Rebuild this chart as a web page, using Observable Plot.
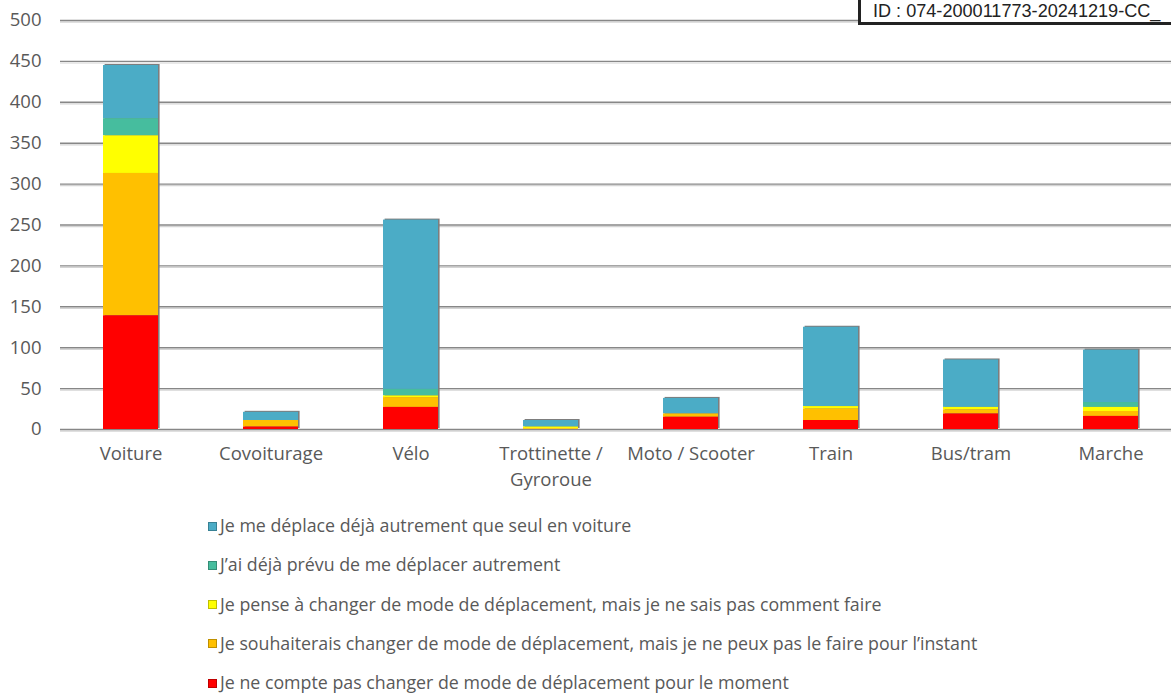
<!DOCTYPE html>
<html>
<head>
<meta charset="utf-8">
<script src="https://cdn.jsdelivr.net/npm/d3@7"></script>
<script src="https://cdn.jsdelivr.net/npm/@observablehq/plot@0.6"></script>
<style>
  html, body { margin: 0; padding: 0; background: #fff; overflow: hidden; }
  #wrap { position: relative; width: 1171px; height: 693px; overflow: hidden; }
  #chart svg { display: block; overflow: visible; }
  #idbox { position: absolute; left: 858px; top: -10px; width: 313px; height: 35px;
           border: 3px solid #222; border-right: none; background: #fff; font-family: "Liberation Sans", Arial, sans-serif;
           font-size: 18.1px; color: #222; box-sizing: border-box; line-height: 1; }
  #idbox span { position: absolute; top: 8px; left: 12px; white-space: nowrap; transform: scaleY(1.06); transform-origin: top left; }
  .leg { position: absolute; left: 208px; font-family: "Open Sans", Lato, sans-serif; font-size: 17.8px;
         color: #595959; white-space: nowrap; display: flex; align-items: center; height: 20px; line-height: 1; }
  .leg i { display: inline-block; width: 9px; height: 9px; margin-right: 3px; box-sizing: border-box; border: 1px solid rgba(0,0,0,0.25); flex: none; }
</style>
</head>
<body>
<div id="wrap">
  <div id="chart"></div>
  <div id="legend"></div>
  <div id="idbox"><span>ID : 074-200011773-20241219-CC_</span></div>
</div>
<script>
const categories = ["Voiture", "Covoiturage", "Vélo", "Trottinette / Gyroroue", "Moto / Scooter", "Train", "Bus/tram", "Marche"];
const tickLabels = ["Voiture", "Covoiturage", "Vélo", "Trottinette /\nGyroroue", "Moto / Scooter", "Train", "Bus/tram", "Marche"];

// legend order (top to bottom)
const seriesNames = [
  "Je me déplace déjà autrement que seul en voiture",
  "J’ai déjà prévu de me déplacer autrement",
  "Je pense à changer de mode de déplacement, mais je ne sais pas comment faire",
  "Je souhaiterais changer de mode de déplacement, mais je ne peux pas le faire pour l’instant",
  "Je ne compte pas changer de mode de déplacement pour le moment"
];
const seriesColors = ["#4BACC6", "#46BD9E", "#FFFF00", "#FFC000", "#FF0000"];

const dejaAutrement   = [65, 10, 207, 8, 19, 97, 58, 64];
const dejaPrevu       = [21, 0, 8, 0, 0, 0, 0, 6];
const penseChanger    = [46, 0, 2, 2, 0, 3, 3, 5];
const souhaiterais    = [174, 8, 12, 1, 4, 14, 5, 6];
const neComptePas     = [139, 3, 27, 0, 15, 11, 19, 16];

const yTicks = [0, 50, 100, 150, 200, 250, 300, 350, 400, 450, 500];

const seriesValues = [dejaAutrement, dejaPrevu, penseChanger, souhaiterais, neComptePas];
const rows = [];
categories.forEach((c, i) => {
  seriesNames.forEach((s, j) => rows.push({cat: c, series: s, value: seriesValues[j][i]}));
});
const totals = categories.map((c, i) => ({cat: c, total: seriesValues.reduce((a, v) => a + v[i], 0)}));
const stackOrder = seriesNames.slice().reverse(); // bottom to top

const W = 1171;
const chart = Plot.plot({
  width: W,
  height: 500,
  marginTop: 20,
  marginBottom: 71,
  marginLeft: 60,
  marginRight: -9,
  style: {fontFamily: "'Open Sans', Lato, sans-serif", color: "#595959", background: "transparent", overflow: "visible"},
  x: {domain: categories, paddingInner: 0.61, paddingOuter: 0.305, axis: null},
  y: {domain: [0, 500], axis: null},
  color: {domain: seriesNames, range: seriesColors},
  marks: [
    Plot.ruleY(yTicks, {stroke: "#d4d4d4", strokeWidth: 1.2, dy: 1.6}),
    Plot.ruleY(yTicks, {stroke: "#878787", strokeWidth: 1.4}),
    Plot.text(yTicks, {y: d => d, text: d => String(d), frameAnchor: "left", textAnchor: "end", dx: -19, fontSize: 18.5, fill: "#595959"}),
    Plot.barY(totals, {x: "cat", y: "total", fill: "#7d7d7d", dx: 1.6, dy: -1}),
    Plot.barY(rows, Plot.stackY({x: "cat", y: "value", fill: "series", order: stackOrder})),
    Plot.text(categories, {x: d => d, text: (d, i) => tickLabels[i], frameAnchor: "bottom", lineAnchor: "top", dy: 12, lineHeight: 1.42, fontSize: 18.5, fill: "#595959"})
  ]
});
document.getElementById("chart").appendChild(chart);

const legend = document.getElementById("legend");
seriesNames.forEach((s, i) => {
  const d = document.createElement("div");
  d.className = "leg";
  d.style.top = (526 - 10 + i * 39.3) + "px";
  const sw = document.createElement("i");
  sw.style.background = seriesColors[i];
  d.appendChild(sw);
  d.appendChild(document.createTextNode(s));
  legend.appendChild(d);
});
</script>
</body>
</html>
